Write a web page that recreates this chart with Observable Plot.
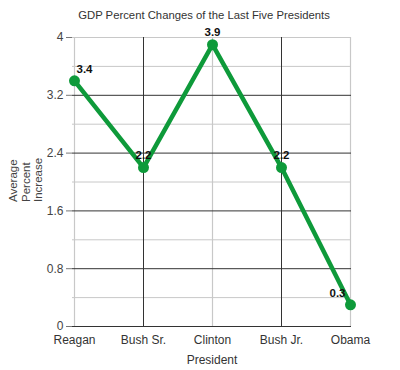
<!DOCTYPE html>
<html>
<head>
<meta charset="utf-8">
<script src="https://cdn.jsdelivr.net/npm/d3@7"></script>
<script src="https://cdn.jsdelivr.net/npm/@observablehq/plot@0.6"></script>
<style>
  body { margin: 0; background: #fff; width: 400px; height: 370px; overflow: hidden; }
  #title { height: 26px; line-height: 30px; text-align: center; padding-left: 8px; box-sizing: border-box; font-family: Arial, "Liberation Sans", sans-serif; font-size: 11.3px; color: #333; }
</style>
</head>
<body>
<div id="title">GDP Percent Changes of the Last Five Presidents</div>
<div id="chart"></div>
<script>
const presidents = ["Reagan", "Bush Sr.", "Clinton", "Bush Jr.", "Obama"];
const gdp = [3.4, 2.2, 3.9, 2.2, 0.3];
const majorTicks = [0, 0.8, 1.6, 2.4, 3.2, 4];
const minorTicks = [0.4, 1.2, 2, 2.8, 3.6];
const yLabel = "Average\nPercent\nIncrease";
const xLabel = "President";

const data = presidents.map((p, i) => ({president: p, value: gdp[i], i}));
const green = "#0e9a3a";
const n = data.length;

const chart = Plot.plot({
  width: 400,
  height: 344,
  marginTop: 11,
  marginBottom: 44,
  marginLeft: 72,
  marginRight: 49,
  style: {fontFamily: "Arial, 'Liberation Sans', sans-serif", fontSize: "12px", color: "#333", background: "white"},
  x: {type: "point", domain: presidents, padding: 0},
  y: {domain: [0, 4]},
  marks: [
    Plot.ruleY(minorTicks, {stroke: "#c8c8c8"}),
    Plot.ruleY([4], {stroke: "#c8c8c8"}),
    Plot.ruleX(presidents.filter((d, i) => i % 2 === 0), {stroke: "#c8c8c8", strokeWidth: 1.2}),
    Plot.ruleX(presidents.filter((d, i) => i % 2 === 1), {stroke: "#333"}),
    Plot.ruleY(majorTicks.filter(d => d < 4), {stroke: "#333"}),
    Plot.axisY({ticks: majorTicks, tickSize: 6, tickPadding: 3, label: null, stroke: "#777", tickFormat: d => String(d), fill: "#444", fontSize: 12}),
    Plot.axisX({tickSize: 0, tickPadding: 9, label: null, fill: "#333", fontSize: 12}),
    Plot.text([xLabel], {frameAnchor: "bottom", dy: 37, fill: "#333", fontSize: 12}),
    Plot.text([yLabel], {frameAnchor: "left", dx: -47, dy: 20, rotate: -90, fill: "#444", fontSize: 11.5, lineHeight: 1.1}),
    Plot.line(data, {x: "president", y: "value", stroke: green, strokeWidth: 4.5}),
    Plot.dot(data, {x: "president", y: "value", r: 5.5, fill: green}),
    Plot.text(data.filter(d => d.i === 0), {x: "president", y: "value", text: d => String(d.value), textAnchor: "start", dx: 2, dy: -12, fontWeight: "bold", fontSize: 11.5, fill: "#111"}),
    Plot.text(data.filter(d => d.i > 0 && d.i < n - 1), {x: "president", y: "value", text: d => String(d.value), dy: -12, fontWeight: "bold", fontSize: 11.5, fill: "#111"}),
    Plot.text(data.filter(d => d.i === n - 1), {x: "president", y: "value", text: d => String(d.value), textAnchor: "end", dx: -5, dy: -12, fontWeight: "bold", fontSize: 11.5, fill: "#111"})
  ]
});
document.getElementById("chart").appendChild(chart);
</script>
</body>
</html>
